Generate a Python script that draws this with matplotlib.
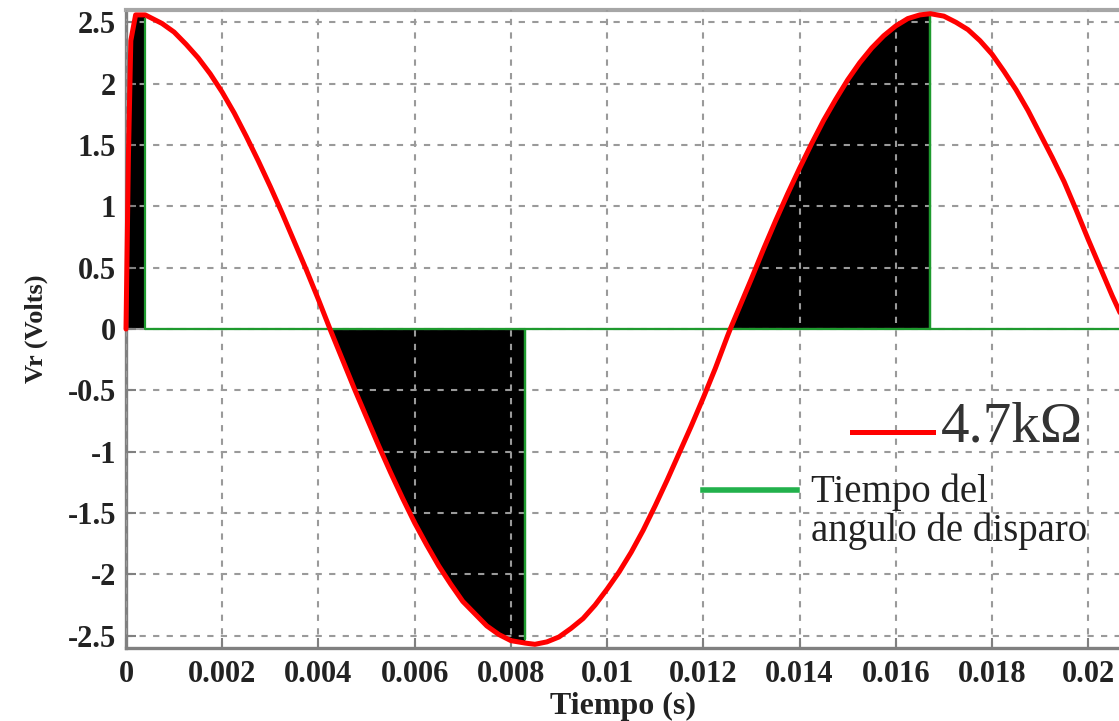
#Voltaje en la resistencia 4.7k con el tiempo del angulo de disparo
import matplotlib
matplotlib.use('Agg')
import matplotlib.pyplot as plt
import numpy as np

# valores
tiempo = [0, 0.00005, 0.0001, 0.0002, 0.0004, 0.0005, 0.00075, 0.001, 0.00125, 0.0015,
          0.00175, 0.002, 0.00225, 0.0025, 0.00275, 0.003, 0.00325, 0.0035, 0.00375, 0.004,
          0.00424, 0.0045, 0.00475, 0.005, 0.00525, 0.0055, 0.00575, 0.006, 0.00625, 0.0065,
          0.00675, 0.007, 0.00725, 0.0075, 0.00775, 0.008, 0.0083, 0.0085, 0.00875, 0.009,
          0.00925, 0.0095, 0.00975, 0.01, 0.01025, 0.0105, 0.01075, 0.011, 0.01125, 0.0115,
          0.01175, 0.012, 0.01225, 0.0125, 0.01256, 0.013, 0.01325, 0.0135, 0.01375, 0.014,
          0.01425, 0.0145, 0.01475, 0.015, 0.01525, 0.0155, 0.01575, 0.016, 0.01625, 0.0165,
          0.01672, 0.017, 0.01725, 0.0175, 0.01775, 0.018, 0.01825, 0.0185, 0.01875, 0.019,
          0.01925, 0.0195, 0.01975, 0.02, 0.0205, 0.0207]
vr = [0, 1.4, 2.35, 2.56, 2.56, 2.54, 2.49, 2.42, 2.32, 2.21,
      2.08, 1.93, 1.76, 1.57, 1.37, 1.16, 0.94, 0.71, 0.48, 0.24,
      0, -0.25, -0.49, -0.72, -0.95, -1.17, -1.38, -1.58, -1.76, -1.93,
      -2.08, -2.22, -2.32, -2.42, -2.49, -2.54, -2.56, -2.57, -2.55, -2.51,
      -2.44, -2.36, -2.25, -2.12, -1.98, -1.82, -1.64, -1.44, -1.23, -1.01,
      -0.79, -0.56, -0.32, -0.06, 0, 0.41, 0.65, 0.88, 1.10, 1.31,
      1.51, 1.70, 1.87, 2.03, 2.17, 2.29, 2.39, 2.47, 2.53, 2.56,
      2.57, 2.55, 2.50, 2.44, 2.35, 2.24, 2.10, 1.95, 1.78, 1.59,
      1.40, 1.20, 0.97, 0.73, 0.27, 0.10]

# pulsos del angulo de disparo (linea verde)
t_disparo = [0.0004, 0.0004, 0.0083, 0.0083, 0.0083, 0.01672, 0.01672, 0.01672, 0.0207]
v_disparo = [2.53, 0, 0, -2.53, 0, 0, 2.55, 0, 0]

# intervalos conduciendo (relleno negro): desde el cruce por cero hasta el disparo
intervalos = [(0, 0.0004), (0.00424, 0.0083), (0.01256, 0.01672)]

x_ticks = [0, 0.002, 0.004, 0.006, 0.008, 0.01, 0.012, 0.014, 0.016, 0.018, 0.02]
x_labels = ['0', '0.002', '0.004', '0.006', '0.008', '0.01', '0.012', '0.014', '0.016', '0.018', '0.02']
y_ticks = [-2.5, -2, -1.5, -1, -0.5, 0, 0.5, 1, 1.5, 2, 2.5]
y_labels = ['-2.5', '-2', '-1.5', '-1', '-0.5', '0', '0.5', '1', '1.5', '2', '2.5']

etiqueta_r = '4.7kΩ'
etiqueta_g = 'Tiempo del\nangulo de disparo'

t = np.array(tiempo)
v = np.array(vr)

fig = plt.figure(figsize=(11.19, 7.21), dpi=100)
ax = fig.add_axes([126/1119, 1 - 648/721, 1 - 126/1119, 638/721])

mask = np.zeros(len(t), dtype=bool)
for a, b in intervalos:
    mask |= (t >= a) & (t <= b)
ax.fill_between(t, v, 0, where=mask, color='black', linewidth=0, zorder=1)

ax.axhline(0, color='#a0a0a0', lw=1.5, zorder=1.5)
ax.plot(t_disparo, v_disparo, color='#1e9a2e', lw=1.6, zorder=3)
ax.plot(t, v, color='#ff0000', lw=3.6, zorder=4, clip_on=False,
        solid_capstyle='round', solid_joinstyle='round')

ax.set_xlim(0, 0.02064)
ax.set_ylim(-2.6, 2.6)
ax.set_axisbelow(False)
ax.grid(True, color='#9a9a9a', lw=1.5, linestyle=(0, (3, 3.5)), zorder=2.5)

fnt = 'Liberation Serif'
ax.set_xticks(x_ticks)
ax.set_xticklabels(x_labels, fontfamily=fnt, fontweight='bold', fontsize=22, color='#222222')
ax.set_yticks(y_ticks)
ax.set_yticklabels(y_labels, fontfamily=fnt, fontweight='bold', fontsize=22, color='#222222')
ax.tick_params(direction='in', length=7, width=1.5, color='#808080')
ax.tick_params(axis='x', pad=9)
ax.tick_params(axis='y', pad=7)

ax.set_xlabel('Tiempo (s)', fontfamily=fnt, fontweight='bold', fontsize=23, color='#222222', labelpad=2)
ax.set_ylabel('Vr (Volts)', fontfamily=fnt, fontweight='bold', fontsize=19, color='#222222', labelpad=14)

for s in ['left', 'bottom']:
    ax.spines[s].set_color('#808080')
    ax.spines[s].set_linewidth(2.4)
ax.spines['top'].set_color('#a6a6a6')
ax.spines['top'].set_linewidth(3)
ax.spines['right'].set_visible(False)

# leyenda dibujada a mano
ax.plot([0.731, 0.813], [0.3386, 0.3386], transform=ax.transAxes, color='#ff0000', lw=3.6, zorder=5)
ax.text(0.821, 0.345, etiqueta_r, transform=ax.transAxes, fontfamily=fnt, fontsize=41,
        color='#333333', va='center', ha='left', zorder=5)
ax.plot([0.581, 0.676], [0.2476, 0.2476], transform=ax.transAxes, color='#22b14c', lw=4, zorder=5)
ax.text(0.690, 0.213, etiqueta_g, transform=ax.transAxes, fontfamily=fnt, fontsize=28,
        color='#222222', va='center', ha='left', linespacing=1.05, zorder=5)

fig.savefig('out.png', dpi=100)
